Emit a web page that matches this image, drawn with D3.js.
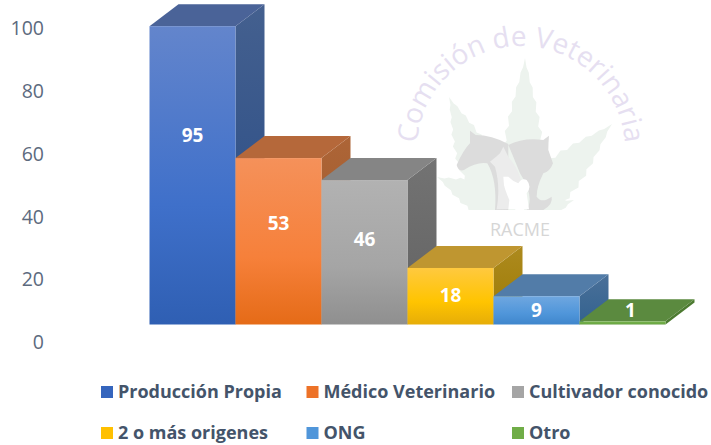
<!DOCTYPE html>
<html>
<head>
<meta charset="utf-8">
<script src="https://cdnjs.cloudflare.com/ajax/libs/d3/7.8.5/d3.min.js"></script>
<style>
  body { margin: 0; background: #fff; }
  text { font-family: "Open Sans", sans-serif; }
</style>
</head>
<body>
<div id="chart-area"></div>
<script>
// Data
var categories = ["Producción Propia", "Médico Veterinario", "Cultivador conocido", "2 o más origenes", "ONG", "Otro"];
var values = [95, 53, 46, 18, 9, 1];
var yTicks = [0, 20, 40, 60, 80, 100];

// Colors per category
var frontTop = ["#6385cc", "#f5915a", "#b2b2b2", "#ffc93f", "#6fa7e0", "#70ad47"];
var frontMid = ["#3f70ca", "#f6803a", "#a5a5a5", "#ffc400", "#5096da", "#70ad47"];
var frontBottom = ["#2f5fb3", "#e56b17", "#8f8f8f", "#e6ad08", "#3f86cc", "#5f9a3a"];
var topColors = ["#4a6398", "#b5683a", "#858585", "#bf9630", "#527ca8", "#5b8a3f"];
var sideTop = ["#44608f", "#ad6537", "#737373", "#ad8a1e", "#4a7099", "#4c7a30"];
var sideBottom = ["#264a85", "#9a5528", "#626262", "#9c7a04", "#33628f", "#4c7a30"];
var legendColors = ["#3565bd", "#ed7228", "#a5a5a5", "#ffc000", "#5096da", "#70ad47"];

var width = 711, height = 445;
var depthX = 29, depthY = 22;

var svg = d3.select("#chart-area")
    .append("svg")
    .attr("width", width)
    .attr("height", height)
    .style("display", "block");

var defs = svg.append("defs");

// Scales
var x = d3.scaleBand().domain(categories).range([149.5, 665.5]).padding(0);
var y = d3.scaleLinear().domain([0, 100]).range([324.5, 10.5]);
// the value labels do not sit at the middle of the bars
var labelY = d3.scaleLinear().domain([9, 18, 46, 53, 95]).range([310, 295, 239, 223, 135]).clamp(true);

// Watermark
var mark = svg.append("g").attr("class", "watermark");

function leaf(base, tip, halfWidth, teeth) {
    var dx = tip[0] - base[0], dy = tip[1] - base[1];
    var len = Math.sqrt(dx * dx + dy * dy);
    var ux = dx / len, uy = dy / len;
    var left = [], right = [];
    for (var i = 0; i <= teeth * 2; i++) {
        var t = i / (teeth * 2);
        var w = halfWidth * Math.sin(Math.PI * Math.pow(t, 0.62)) * (i % 2 ? 0.84 : 1);
        var along = len * t + (i % 2 ? -2 : 0);
        var px = base[0] + ux * along, py = base[1] + uy * along;
        left.push([px - uy * w, py + ux * w]);
        right.unshift([px + uy * w, py - ux * w]);
    }
    return d3.line()(left.concat(right)) + "Z";
}

defs.append("clipPath").attr("id", "leaf-clip")
    .append("rect").attr("x", 400).attr("y", 40).attr("width", 240).attr("height", 170);

var leaves = mark.append("g").attr("clip-path", "url(#leaf-clip)").attr("fill", "#edf3ee");
leaves.append("path").attr("d", leaf([522, 205], [525, 58], 21, 10));
leaves.append("path").attr("d", leaf([490, 195], [449, 97], 19, 9));
leaves.append("path").attr("d", leaf([525, 212], [612, 124], 22, 9));
leaves.append("path").attr("d", leaf([515, 214], [437, 177], 19, 8));
leaves.append("path").attr("d", leaf([535, 214], [574, 200], 9, 4));

var animals = mark.append("g").attr("transform", "translate(380,0) scale(0.3333)");
animals.append("path").attr("fill", "#dcdcdc")
    .attr("d", "M270,392 L287,405 Q335,405 385,432 L385,630 L345,630 Q352,540 322,490 Q290,485 252,510 Q235,516 230,495 Q250,450 270,430 Z");
animals.append("path").attr("fill", "#dcdcdc")
    .attr("d", "M385,435 Q430,412 490,420 L507,407 Q505,430 505,450 L519,490 Q510,515 490,520 Q470,560 470,590 Q485,612 515,590 Q520,612 490,630 L440,630 Q465,590 420,520 Q400,470 385,435 Z");
animals.append("path").attr("fill", "#ececec")
    .attr("d", "M370,440 L385,470 Q410,500 420,530 L445,625 L350,628 Q362,560 345,500 L330,485 Q350,470 360,460 Z");
animals.append("path").attr("fill", "#ffffff")
    .attr("d", "M370,530 L385,530 Q400,545 415,550 Q425,533 440,540 Q457,560 440,580 L447,628 L385,628 L388,600 Q375,570 372,555 Z");

defs.append("path").attr("id", "mark-arc")
    .attr("d", d3.arc()({ innerRadius: 104, outerRadius: 104, startAngle: -Math.PI * 0.5, endAngle: Math.PI * 0.5 }).split("A").slice(0, 2).join("A"))
    .attr("transform", "translate(521,150)");

mark.append("text")
    .attr("fill", "#e6dff1")
    .attr("font-size", "28px")
    .attr("text-anchor", "middle")
    .append("textPath")
    .attr("href", "#mark-arc")
    .attr("startOffset", "50%")
    .text("Comisión de Veterinaria");

mark.append("text")
    .attr("x", 520)
    .attr("y", 236)
    .attr("text-anchor", "middle")
    .attr("fill", "#d6d6d6")
    .attr("font-size", "18px")
    .text("RACME");

// Y axis, moved down to the front of the 3D floor
var yAxis = d3.axisLeft(y).tickValues(yTicks).tickSize(0).tickPadding(0);
var yAxisG = svg.append("g").attr("class", "y-axis").attr("transform", "translate(44,18)").call(yAxis);
yAxisG.select(".domain").remove();
yAxisG.selectAll("text").attr("font-size", "19.5px").attr("fill", "#5c6a7e").style("font-family", "'Open Sans', sans-serif");

// Gradients
categories.forEach(function(c, i) {
    var f = defs.append("linearGradient").attr("id", "front-" + i).attr("x1", 0).attr("y1", 0).attr("x2", 0).attr("y2", 1);
    f.append("stop").attr("offset", "0%").attr("stop-color", frontTop[i]);
    f.append("stop").attr("offset", "60%").attr("stop-color", frontMid[i]);
    f.append("stop").attr("offset", "100%").attr("stop-color", frontBottom[i]);
    var s = defs.append("linearGradient").attr("id", "side-" + i).attr("x1", 0).attr("y1", 0).attr("x2", 0).attr("y2", 1);
    s.append("stop").attr("offset", "0%").attr("stop-color", sideTop[i]);
    s.append("stop").attr("offset", "100%").attr("stop-color", sideBottom[i]);
});

// Bars, left to right so each one covers the side of the previous
var bars = svg.selectAll("g.bar")
    .data(values)
    .enter()
    .append("g")
    .attr("class", "bar");

bars.append("path")
    .attr("fill", function(d, i) { return "url(#side-" + i + ")"; })
    .attr("d", function(d, i) {
        var r = x(categories[i]) + x.bandwidth();
        return d3.line()([[r, y(d)], [r + depthX, y(d) - depthY], [r + depthX, y(0) - depthY], [r, y(0)]]) + "Z";
    });

bars.append("path")
    .attr("fill", function(d, i) { return topColors[i]; })
    .attr("d", function(d, i) {
        var l = x(categories[i]), r = l + x.bandwidth();
        return d3.line()([[l, y(d)], [l + depthX, y(d) - depthY], [r + depthX, y(d) - depthY], [r, y(d)]]) + "Z";
    });

bars.append("rect")
    .attr("x", function(d, i) { return x(categories[i]); })
    .attr("y", function(d) { return y(d); })
    .attr("width", x.bandwidth())
    .attr("height", function(d) { return y(0) - y(d); })
    .attr("fill", function(d, i) { return "url(#front-" + i + ")"; });

// Value labels
svg.selectAll("text.value")
    .data(values)
    .enter()
    .append("text")
    .attr("class", "value")
    .attr("x", function(d, i) { return x(categories[i]) + x.bandwidth() / 2 + (d < 5 ? 8 : 0); })
    .attr("y", function(d) { return labelY(d); })
    .attr("dy", "0.35em")
    .attr("text-anchor", "middle")
    .attr("font-size", "19px")
    .attr("font-weight", "700")
    .attr("fill", "#ffffff")
    .text(function(d) { return d; });

// Legend
var legendX = d3.scalePoint().domain([0, 1, 2]).range([101, 512]);
var legendY = d3.scalePoint().domain([0, 1]).range([392, 433]);

var legend = svg.selectAll("g.legend")
    .data(categories)
    .enter()
    .append("g")
    .attr("class", "legend")
    .attr("transform", function(d, i) { return "translate(" + legendX(i % 3) + "," + legendY(Math.floor(i / 3)) + ")"; });

legend.append("rect")
    .attr("x", 0)
    .attr("y", -6)
    .attr("width", 12)
    .attr("height", 12)
    .attr("fill", function(d, i) { return legendColors[i]; });

legend.append("text")
    .attr("x", 17)
    .attr("dy", "0.35em")
    .attr("font-size", "18px")
    .attr("font-weight", "700")
    .attr("fill", "#44546a")
    .text(function(d) { return d; });
</script>
</body>
</html>
